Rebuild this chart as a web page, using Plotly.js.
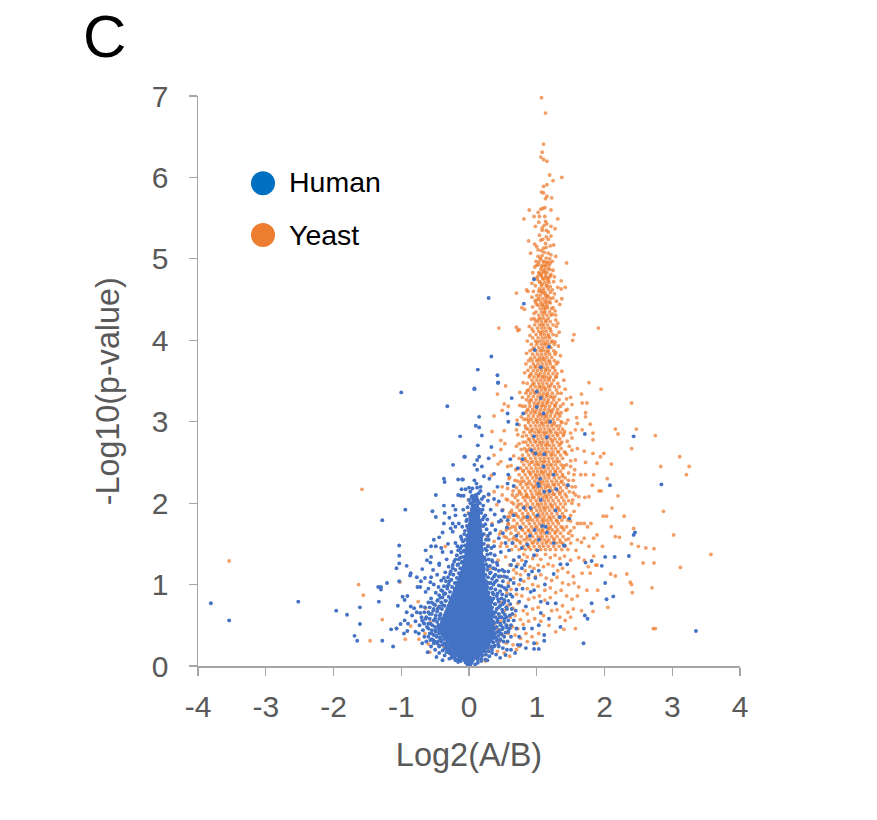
<!DOCTYPE html>
<html><head><meta charset="utf-8">
<script src="https://cdn.plot.ly/plotly-3.0.1.min.js"></script>
<style>html,body{margin:0;padding:0;background:#fff}#c{width:877px;height:820px}</style></head>
<body><div id="c"></div>
<script>
const seriesNames=["Human","Yeast"];
const xTicks=[-4,-3,-2,-1,0,1,2,3,4];
const yTicks=[0,1,2,3,4,5,6,7];

// Human: solid blob at the origin, read as rows [y, x, x, ...]
const humanCoreRows=[
[.02,-.01,.01],[.05,-.04,-.01,.03],[.08,-.06,-.02,.01,.05],[.11,-.09,-.05,-.01,.03,.07,.1],
[.14,-.12,-.08,-.03,.02,.06,.1,.14],[.17,-.16,-.11,-.07,-.02,.03,.08,.12,.16],
[.2,-.2,-.15,-.1,-.06,-.01,.04,.09,.14,.19,.22],[.24,-.24,-.19,-.14,-.09,-.04,.01,.06,.11,.16,.2,.25],
[.27,-.27,-.22,-.17,-.12,-.07,-.02,.03,.08,.13,.18,.23,.28],[.31,-.31,-.26,-.21,-.16,-.11,-.06,-.01,.04,.09,.14,.19,.24,.29,.32],
[.35,-.34,-.29,-.24,-.19,-.14,-.09,-.04,.01,.06,.11,.16,.21,.26,.31,.34],[.38,-.38,-.33,-.28,-.23,-.18,-.13,-.08,-.03,.02,.07,.12,.17,.22,.27,.32,.36],
[.42,-.4,-.35,-.3,-.25,-.2,-.15,-.1,-.05,0,.05,.1,.15,.2,.25,.3,.34],[.46,-.42,-.37,-.32,-.27,-.22,-.17,-.12,-.07,-.02,.03,.08,.13,.18,.23,.28,.33,.36],
[.5,-.41,-.36,-.31,-.26,-.21,-.16,-.11,-.06,-.01,.04,.09,.14,.19,.24,.29,.34],[.54,-.39,-.34,-.29,-.24,-.19,-.14,-.09,-.04,.01,.06,.11,.16,.21,.26,.31,.35],
[.58,-.38,-.33,-.28,-.23,-.18,-.13,-.08,-.03,.02,.07,.12,.17,.22,.27,.32],[.62,-.35,-.3,-.25,-.2,-.15,-.1,-.05,0,.05,.1,.15,.2,.25,.3,.34],
[.66,-.33,-.28,-.23,-.18,-.13,-.08,-.03,.02,.07,.12,.17,.22,.27,.31],[.7,-.31,-.26,-.21,-.16,-.11,-.06,-.01,.04,.09,.14,.19,.24,.29,.32],
[.74,-.29,-.24,-.19,-.14,-.09,-.04,.01,.06,.11,.16,.21,.26,.3],[.78,-.27,-.22,-.17,-.12,-.07,-.02,.03,.08,.13,.18,.23,.28],
[.82,-.26,-.2,-.15,-.1,-.05,0,.05,.1,.15,.2,.25,.29],[.86,-.23,-.18,-.13,-.08,-.03,.02,.07,.12,.17,.22,.27],
[.9,-.21,-.16,-.11,-.06,-.01,.04,.09,.14,.19,.24,.26],[.94,-.2,-.15,-.1,-.05,0,.05,.1,.15,.2,.25],
[.98,-.17,-.12,-.07,-.02,.03,.08,.13,.18,.23],[1.02,-.16,-.11,-.06,-.01,.04,.09,.14,.19,.23],
[1.06,-.13,-.08,-.03,.02,.07,.12,.17,.21],[1.1,-.12,-.07,-.02,.03,.08,.13,.18,.21],
[1.14,-.1,-.05,0,.05,.1,.15,.2],[1.18,-.09,-.04,.01,.06,.11,.16,.2],
[1.22,-.07,-.02,.03,.08,.13,.18,.2],[1.26,-.06,-.01,.04,.09,.14,.19],
[1.3,-.05,0,.05,.1,.15,.19],[1.34,-.04,.01,.06,.11,.16,.19],
[1.38,-.03,.02,.07,.12,.17],[1.42,-.03,.03,.08,.13,.18],
[1.46,-.02,.02,.07,.12,.17],[1.5,-.01,.04,.09,.14,.18],
[1.54,0,.03,.08,.13,.17],[1.58,0,.05,.1,.15,.17],
[1.62,.01,.04,.09,.14,.17],[1.66,.01,.06,.11,.16],
[1.7,.02,.05,.1,.15],[1.74,.02,.07,.12,.16],
[1.78,.03,.06,.11,.15],[1.83,.03,.08,.13],[1.87,.04,.09,.13],[1.92,.05,.1,.14],[1.97,.06,.11],[2.03,.07,.12],[2.08,.05,.1]
];
// Human: scattered points, flat x,y pairs
const humanOutliers=[-3.81,.77,-3.54,.56,-2.52,.79,-1.96,.68,-1.8,.63,-1.61,.72,-1.61,.515,-1.69,.37,-1.65,.31,-1.28,.31,-1.12,.24,-1.33,.79,-1.34,.97,-1.3,.97,-1.3,.94,-1.21,1.02,-1.03,1.04,-1.05,.74,-.92,1.23,-1.07,1.2,-1.03,1.26,-1.03,1.355,-1.03,1.48,-1.28,1.79,-.94,1.92,-1,3.36,-.32,3.19,.08,3.4,3.35,.43,.29,4.52,.96,4.75,.81,4.45,1.18,3.92,.97,3.88,.33,3.8,1.06,3.67,.13,3.64,.42,3.57,.43,3.48,.08,3.41,.43,3.48,.63,3.29];
const humanLeftFlank=[-.13,2.82,.15,3.06,.1,2.95,.15,2.93,-.06,2.57,-.235,2.47,.13,2.71,.12,2.53,.08,2.47,-.37,2.3,-.36,2.26,-.16,2.29,-.09,2.29,.08,2.28,-.11,2.17,-.05,2.17,0,2.19,-.49,2.1,-.16,2.1,-.12,2.09,-.08,2.09,.1,2.1,-.54,1.9,-.37,1.97,-.235,1.97,-.2,1.92,-.36,1.88,-.49,1.83,-.29,1.82,-.2,1.85,-.37,1.75,-.24,1.75,-.15,1.75,-.27,1.69,-.2,1.71,-.1,1.71,-.39,1.64,-.24,1.65,-.12,1.59,-.52,1.55,-.44,1.58,-.56,1.47,-.49,1.47,-.41,1.45,-.64,1.42,-.2,1.51,-.07,1.42,-.39,1.4,-.56,1.34,-.62,1.3,-.57,1.27,-.44,1.26,-.33,1.31,-.69,1.19,-.44,1.24,-.86,1.14,-.87,1.11,-.47,1.12,-.56,1.09,-.77,1.09,-.71,1.04,-.57,1.03,-.37,1.08,-.76,.97,-.72,.97,-.64,.91,-.56,.83,-.98,.85,-.91,.86,-.95,.81,-.86,.73,-.81,.71,-.92,.66,-.71,.73,-.72,.65,-.69,.56,-.67,.53,-.9,.52,-1.01,.515,-1.07,.46,-1.15,.45,-.95,.56,-.96,.4,-.91,.43,-.79,.42,-.74,.4,-.66,.36,-.57,.32,-.52,.28,-.44,.24,-.39,.07,-.61,.17,-.27,.15,
-.3,1.22,-.28,1.13,-.24,1.2,-.22,1.28,-.18,1.36,-.16,1.25,-.13,1.33,-.13,1.44,-.1,1.28,-.26,1.4,-.31,1.5,-.17,1.47,-.11,1.56,-.07,1.62,-.03,1.72,-.06,1.85,-.02,1.95,-.04,1.78,0,2.04,.02,2.14,-.29,1.04,-.32,.98,-.35,1.15,-.41,1.05,-.45,.97,-.39,.92,-.49,.9,-.52,1,-.6,.95,-.65,1.08,-.53,1.18,-.37,.88,-.42,.84,-.47,.8,-.35,.8,-.52,.76,-.6,.78,-.65,.72,-.39,.75,-.46,.7,-.53,.68,-.58,.64,-.63,.6,-.43,.62,-.5,.58,-.57,.52,-.62,.48,-.68,.44,-.73,.5,-.79,.55,-.84,.62,-.77,.66,-.45,.5,-.5,.44,-.55,.4,-.6,.36,-.63,.3,-.69,.28,-.48,.36,-.53,.32,-.47,.28,-.42,.33,-.44,.42,-.39,.19,-.44,.16,-.5,.2,-.56,.24,-.48,.11,-.33,.22,-.36,.13,-.29,.09,-.25,.1,-.2,.07,-.16,.05,-.13,.08,-.32,.28];
const humanEdgeLeft=[-.12,.06,-.17,.08,-.14,.1,-.21,.1,-.25,.12,-.2,.13,-.16,.13,-.19,.15,-.24,.15,-.29,.16,-.33,.17,-.22,.18,-.27,.19,-.31,.2,-.36,.21,-.25,.22,-.3,.23,-.34,.25,-.39,.26,-.44,.25,-.36,.28,-.41,.3,-.46,.3,-.51,.3,-.55,.33,-.37,.33,-.43,.35,-.48,.37,-.52,.38,-.58,.4,-.44,.4,-.49,.42,-.55,.44,-.6,.46,-.45,.46,-.5,.48,-.54,.5,-.6,.52,-.66,.52,-.47,.54,-.52,.56,-.58,.58,-.64,.58,-.7,.6,-.44,.58,-.49,.62,-.55,.64,-.6,.66,-.66,.66,-.42,.64,-.47,.67,-.52,.7,-.58,.72,-.4,.7,-.44,.73,-.5,.75,-.55,.78,-.36,.74,-.41,.78,-.46,.81,-.34,.8,-.39,.84,-.44,.87,-.3,.85,-.35,.89,-.41,.93,-.28,.91,-.32,.95,-.37,.98,-.25,.97,-.3,1,-.34,1.04,-.21,1.02,-.26,1.06,-.31,1.09,-.18,1.08,-.23,1.12,-.27,1.16,-.15,1.14,-.2,1.18,-.24,1.24,-.13,1.2,-.17,1.24,-.2,1.31,-.11,1.27,-.15,1.31,-.09,1.34,-.12,1.39,-.16,1.42,-.08,1.41,-.11,1.47,-.06,1.48,-.05,1.55,-.09,1.53,-.03,1.6,-.06,1.66,-.01,1.69,-.03,1.8,0,1.87];
const humanRightFlank=[.43,3.48,.57,3.1,.8,3.1,.58,3,.71,2.97,.19,2.83,.33,2.69,-.07,2.57,.15,2.57,.29,2.55,.19,2.45,.61,2.54,.79,2.54,.37,2.36,.22,2.33,.3,2.3,.58,2.35,.72,2.43,.12,2.41,-.1,2.29,.57,2.24,.66,2.21,.05,2.18,.12,2.19,.42,2.2,.22,2.08,.29,2.11,.11,2.06,.37,2.05,.44,2.02,.32,1.92,.49,1.91,.02,2,-.085,1.92,.07,1.875,.22,1.83,.52,1.83,.47,1.79,.81,1.94,.91,1.94,.66,1.85,.86,1.83,.34,1.73,.57,1.79,.39,1.67,.2,1.61,.29,1.55,.44,1.57,.54,1.51,.64,1.51,.37,1.47,.59,1.42,.47,1.4,.74,1.34,.66,1.3,.86,1.49,1.03,1.55,1.01,1.42,.42,1.24,.49,1.18,.52,1.1,.37,1.1,.32,1.02,.61,1.06,.76,1.06,.93,1.16,1.03,1.17,.79,.95,.91,.91,.64,.85,.52,.81,.42,.89,.34,.81,.74,.79,.84,.73,.96,.93,1.06,.79,1.16,.77,1.28,.77,1.06,.65,.52,.58,.37,.65,.66,.56,.81,.46,.93,.46,1.18,.58,1.03,.5,1.35,.48,.74,.36,.47,.4,1.11,.38,1.11,.31,.96,.28,.76,.26,.84,.22,.96,.21,1.03,.21,.54,.135,.37,.24,.27,.07,1.71,2.85,2.43,2.82,2.08,2.22,2.84,2.23,2.45,1.64,2.43,1.61,2.36,1.35,2.15,1.34,2.01,1.34,1.81,1.29,1.72,1.27,1.96,1.23,1.45,1.25,1.35,1.25,1.25,1.13,2.01,1.02,2.03,.82,2.13,.855,1.81,.77,1.71,.62,1.75,.58,1.69,.28,1.46,2.22,1.4,1.48,1.48,1.81,
.24,1.3,.28,1.22,.31,1.14,.35,1.28,.39,1.19,.27,1.02,.33,.96,.38,1.03,.44,1.1,.48,.98,.36,.88,.43,.82,.49,.88,.55,.94,.38,.76,.44,.72,.5,.76,.56,.7,.61,.76,.39,.66,.45,.6,.5,.66,.55,.6,.42,.54,.47,.5,.38,.46,.43,.42,.49,.45,.55,.5,.6,.46,.64,.64,.69,.68,.4,.34,.46,.32,.52,.36,.57,.3,.62,.36,.44,.24,.5,.22,.56,.2,.34,.16,.4,.14,.46,.1,.3,.12,.24,.08,.18,.06,.13,.04,.09,.02,.7,.46,.72,.26,.68,.16,.62,.2,.66,1.02,.7,.94,.58,1.16,.62,1.24,.7,1.22,.78,1.2,.84,1.28,.88,1.12,.98,1.08,1.12,1,.2,1.92,.27,1.8,.31,1.63,.26,1.42,.24,1.74,.17,2.2,.28,2.03,.38,1.86,.44,1.77,.5,1.63,.56,1.7,.7,1.6,.76,1.7,.78,1.45,.9,1.6,.96,1.36,.82,1.24];
const humanEdgeRight=[.13,.08,.18,.09,.14,.12,.2,.13,.25,.14,.19,.17,.24,.18,.29,.18,.34,.2,.28,.22,.33,.24,.38,.25,.43,.27,.36,.29,.41,.31,.46,.33,.51,.3,.38,.35,.43,.37,.48,.39,.54,.41,.58,.42,.4,.41,.45,.44,.5,.47,.56,.47,.62,.5,.41,.48,.46,.52,.52,.54,.58,.56,.37,.53,.42,.57,.48,.6,.53,.63,.6,.62,.39,.6,.44,.64,.49,.69,.55,.72,.63,.7,.36,.66,.41,.7,.46,.74,.52,.78,.58,.8,.34,.72,.39,.76,.44,.79,.48,.83,.55,.86,.61,.88,.33,.78,.36,.83,.41,.86,.46,.92,.52,.96,.58,.98,.31,.84,.35,.9,.39,.94,.44,.99,.5,1.04,.56,1.09,.29,.9,.32,.95,.36,1,.41,1.05,.46,1.1,.52,1.16,.27,.97,.3,1.02,.34,1.07,.39,1.12,.44,1.17,.25,1.04,.28,1.09,.32,1.15,.36,1.2,.41,1.27,.24,1.12,.27,1.18,.31,1.23,.34,1.3,.38,1.36,.22,1.2,.25,1.25,.29,1.31,.32,1.38,.23,1.33,.27,1.37,.24,1.44,.28,1.47,.33,1.45,.22,1.5,.25,1.55,.28,1.6,.22,1.62,.26,1.68,.21,1.72,.2,1.8,.24,1.85,.18,1.88,.21,1.97,.16,2,.19,2.05,.14,2.12,.17,2.15,.11,2.24];
const humanOnYeast=[1,3.37,1.06,3.29,1,3.18,1.1,3.1,1.2,3,1.15,2.81,.96,2.82,.92,2.65,.98,2.61,1.11,2.6,1.1,2.45,1.05,2.3,1.02,2.24,1.03,2.21,1.11,2.14,1.19,2.15,1.29,2.17,1.06,2.04,1.25,2.35,1.28,1.91,1.01,1.85,1.08,1.72,1.13,1.71,1.15,1.64,.97,1.67,1.25,1.51,1.34,1.83,1.41,1.48];

// Yeast: upper spire, flat x,y pairs
const yeastSpire=[1.07,6.98,1.13,6.79,1.1,6.41,1.08,6.31,1.06,6.25,1.1,6.22,1.15,6.2,1.19,6.03,1.37,6,1.24,5.96,1.15,5.91,1.1,5.89,1.07,5.82,1.1,5.81,1.15,5.77,1.13,5.74,1.22,5.75,.89,5.6,1.06,5.61,1.09,5.62,1.12,5.63,1.21,5.6,1.02,5.57,.81,5.49,.96,5.52,1.04,5.52,1.12,5.52,1.31,5.49,1.13,5.46,1.15,5.43,.98,5.4,1.08,5.38,1.08,5.35,1.14,5.35,1.21,5.4,1.27,5.37,1.14,5.27,1.21,5.28,.88,5.22,1.06,5.23,.97,5.18,1,5.15,1.13,5.19,1.2,5.16,1.25,5.17,1.1,5.13,1.14,5.14,1.11,5.08,.91,5.07,1.21,5.05,1.28,5.03,1.08,5.04,1.06,4.99,1.11,4.97,1.44,4.95,1.02,4.93,1.15,4.95,1.2,4.95,1.07,4.9,1.12,4.91,1.17,4.88,1.1,4.85,1.04,4.82,.94,4.83,1.21,4.81,1.01,4.78,1.09,4.76,1.14,4.77,1.17,4.73,1.36,4.73,1.25,4.72,1.04,4.72,.93,4.7,1.2,4.66,1.31,4.65,1.42,4.65,1.36,4.63,.7,4.58,.85,4.62,.87,4.6,1.03,4.6,1.1,4.58,1.13,4.55,1.24,4.52,1.37,4.51,1.02,4.5,.98,4.49,1.14,4.47,1.08,4.44,1.2,4.46,1.34,4.44,.78,4.4,.82,4.38,1.12,4.42,1.24,4.4,1.27,4.36,1.28,4.31,.44,4.15,.7,4.16,.72,4.12,.98,4.24,.89,4.17,1.91,4.15,1.29,4.17,1.27,3.98,1.33,4.1,.74,4.13,1.55,4.07,1.53,4];
// Yeast: dense column, rows [y, x, x, ...]
const yeastCoreRows=[
[5.01,1.05,1.14],[4.96,1.03,1.1,1.16],[4.92,1,1.08,1.13,1.18],[4.87,1.06,1.12,1.19],[4.83,1.03,1.09,1.15],[4.79,1.07,1.13,1.2],[4.75,1.01,1.1,1.16],[4.71,1.05,1.12,1.18],[4.67,.98,1.07,1.14],[4.63,1.04,1.1,1.17],[4.59,1.07,1.12,1.2],[4.55,1,1.05,1.15],[4.51,1.03,1.09,1.14,1.2],[4.47,.98,1.06,1.12,1.18],[4.43,1.02,1.08,1.15],[4.39,1.05,1.1,1.13,1.22],[4.35,.99,1.07,1.12,1.19],[4.31,1.03,1.09,1.15,1.21],[4.27,.96,1.05,1.1,1.17],[4.23,1.01,1.07,1.13,1.2],[4.19,.97,1.04,1.1,1.16,1.24],[4.15,1.01,1.07,1.12,1.18],[4.11,.95,1.03,1.09,1.14,1.21],[4.07,.99,1.06,1.11,1.17,1.24],[4.03,.94,1.02,1.08,1.13,1.19],[3.99,.98,1.05,1.1,1.16,1.23],[3.95,.92,1,1.07,1.12,1.18,1.26],[3.91,.96,1.03,1.09,1.15,1.21],[3.87,.9,.99,1.05,1.11,1.17,1.25],[3.83,.94,1.01,1.07,1.13,1.19,1.27],[3.79,.97,1.04,1.09,1.15,1.22],[3.75,.88,.93,1,1.06,1.12,1.18,1.26],[3.71,.95,1.02,1.08,1.14,1.2,1.29],[3.67,.91,.98,1.04,1.1,1.16,1.23],[3.63,.87,.95,1.01,1.07,1.13,1.19,1.27],[3.59,.92,.99,1.05,1.11,1.17,1.24,1.3],[3.55,.89,.96,1.02,1.08,1.14,1.2,1.28],[3.51,.93,1,1.06,1.12,1.18,1.25],[3.47,.86,.96,1.03,1.09,1.15,1.22,1.31],[3.43,.91,.98,1.05,1.1,1.17,1.26],[3.39,.88,.94,1.01,1.07,1.13,1.19,1.29],[3.35,.84,.91,.98,1.04,1.1,1.16,1.23,1.31],[3.31,.88,.95,1.02,1.08,1.14,1.2,1.27],[3.27,.85,.92,.99,1.05,1.11,1.17,1.25,1.33],[3.23,.89,.96,1.03,1.09,1.15,1.22,1.29],[3.19,.83,.9,.97,1.01,1.07,1.13,1.19,1.27,1.35],[3.15,.87,.94,1,1.06,1.12,1.18,1.24,1.31],[3.11,.84,.91,.98,1.04,1.1,1.16,1.22,1.29,1.36],[3.07,.88,.95,1.02,1.08,1.14,1.2,1.27,1.34],[3.03,.81,.85,.92,.99,1.05,1.11,1.17,1.24,1.31],[2.99,.88,.95,1.01,1.07,1.13,1.19,1.26,1.37],[2.95,.83,.91,.98,1.04,1.1,1.16,1.22,1.29,1.34],[2.91,.87,.94,1,1.06,1.12,1.18,1.25,1.32,1.38],[2.87,.81,.9,.97,1.03,1.09,1.15,1.21,1.28,1.35],[2.83,.85,.93,1,1.06,1.12,1.18,1.24,1.31,1.39],[2.79,.88,.95,1.02,1.08,1.14,1.2,1.27,1.34],[2.75,.8,.84,.91,.98,1.04,1.1,1.16,1.23,1.3,1.37],[2.71,.87,.94,1.01,1.07,1.13,1.19,1.25,1.33],[2.67,.82,.9,.97,1.03,1.09,1.15,1.22,1.28,1.36],[2.63,.85,.93,1,1.06,1.12,1.18,1.24,1.31,1.41],[2.59,.79,.88,.96,1.02,1.08,1.14,1.21,1.27,1.35],[2.55,.83,.91,.98,1.05,1.11,1.17,1.23,1.3,1.38],[2.51,.78,.86,.94,1,1.06,1.12,1.18,1.25,1.33],[2.47,.81,.89,.97,1.03,1.09,1.15,1.22,1.28,1.36,1.44],[2.43,.76,.85,.92,.99,1.05,1.11,1.17,1.24,1.31,1.39],[2.39,.8,.88,.95,1.01,1.07,1.13,1.2,1.27,1.35],[2.35,.74,.83,.91,.98,1.04,1.1,1.16,1.23,1.3,1.38],[2.31,.78,.86,.94,1,1.06,1.12,1.18,1.26,1.33,1.42],[2.27,.72,.81,.89,.97,1.03,1.09,1.15,1.22,1.29,1.37],[2.23,.76,.84,.92,.99,1.05,1.11,1.17,1.24,1.32,1.4],[2.19,.7,.79,.87,.95,1.01,1.07,1.13,1.2,1.27,1.35,1.44],[2.15,.74,.83,.91,.98,1.04,1.1,1.16,1.23,1.31,1.38],[2.11,.77,.85,.93,1,1.06,1.12,1.18,1.26,1.34,1.42],[2.07,.68,.8,.88,.96,1.03,1.09,1.15,1.21,1.29,1.37],[2.03,.72,.83,.91,.99,1.05,1.11,1.17,1.24,1.32,1.4,1.47],[1.99,.66,.77,.86,.94,1.01,1.07,1.13,1.2,1.27,1.35],[1.95,.71,.8,.89,.97,1.04,1.1,1.16,1.23,1.3,1.39],[1.91,.63,.75,.84,.92,1,1.06,1.12,1.19,1.26,1.34,1.43],[1.87,.69,.79,.87,.95,1.03,1.09,1.15,1.22,1.3,1.38],[1.83,.6,.73,.82,.9,.98,1.05,1.11,1.18,1.25,1.33,1.41],[1.79,.66,.77,.86,.94,1.01,1.08,1.15,1.21,1.29,1.37,1.46],[1.75,.58,.71,.8,.89,.97,1.04,1.1,1.17,1.24,1.32],[1.71,.64,.75,.84,.92,1,1.07,1.14,1.2,1.28,1.36,1.44],[1.67,.55,.69,.79,.88,.95,1.03,1.09,1.16,1.23,1.31,1.4],[1.63,.62,.73,.83,.91,.99,1.06,1.12,1.19,1.27,1.35,1.47],[1.59,.52,.67,.77,.86,.94,1.02,1.08,1.15,1.22,1.3,1.39],[1.55,.59,.71,.81,.9,.98,1.05,1.11,1.18,1.26,1.34,1.43],[1.51,.48,.65,.76,.85,.93,1.01,1.08,1.14,1.21,1.29,1.38,1.5],[1.47,.56,.69,.8,.88,.96,1.04,1.1,1.17,1.25,1.33,1.42],[1.43,.63,.74,.83,.91,.99,1.06,1.13,1.2,1.28,1.37,1.46]
];
// Yeast: irregular mesh read over the column, flat x,y pairs
const yeastMesh=[1.03,5.45,1.11,5.41,1.17,5.33,1.04,5.29,1.09,5.24,1.17,5.24,1.02,5.11,1.07,5.1,1.17,5.07,1.02,5.03,1.19,5,1.23,4.97,.99,4.97,.97,4.9,1.24,4.86,1.06,4.8,1.13,4.83,1.18,4.77,.96,4.76,1.26,4.78,1.08,4.69,1.15,4.67,1.23,4.62,.95,4.6,1.07,4.61,1.17,4.54,1.26,4.57,.93,4.53,1,4.44,1.16,4.4,1.29,4.48,.94,4.41,1.11,4.34,1.23,4.32,.96,4.33,1.03,4.26,1.14,4.24,1.28,4.25,.92,4.26,1.08,4.19,1.2,4.14,1.31,4.21,.93,4.14,1.06,4.09,1.17,4.05,1.29,4.06,.9,4.06,1.01,3.98,1.13,3.96,1.22,3.98,.86,3.99,1.32,3.93,.94,3.89,1.07,3.88,1.16,3.86,1.28,3.85,.85,3.84,1.35,3.81,.91,3.78,1.02,3.76,1.1,3.77,1.19,3.74,1.31,3.73,.84,3.71,.98,3.68,1.06,3.66,1.14,3.64,1.25,3.67,1.37,3.62,.82,3.6,.9,3.57,1.03,3.57,1.1,3.55,1.18,3.53,1.29,3.55,1.4,3.51,.8,3.48,.94,3.46,1.04,3.43,1.12,3.41,1.2,3.44,1.33,3.43,.86,3.38,.97,3.36,1.07,3.31,1.15,3.33,1.23,3.3,1.36,3.35,1.44,3.28,.79,3.3,.9,3.26,1.01,3.22,1.09,3.2,1.16,3.24,1.27,3.2,1.39,3.22,.75,3.2,.86,3.14,.96,3.12,1.05,3.09,1.13,3.07,1.21,3.13,1.32,3.1,1.43,3.14,.77,3.06,.88,3.02,1,3.01,1.08,2.98,1.16,3,1.24,2.97,1.36,3,1.46,3.02,.74,2.96,.84,2.92,.92,2.89,1.03,2.88,1.12,2.86,1.2,2.89,1.3,2.85,1.41,2.88,1.5,2.86,.72,2.84,.79,2.82,.89,2.78,.98,2.76,1.06,2.74,1.15,2.72,1.23,2.77,1.35,2.73,1.45,2.76,.7,2.7,.77,2.66,.86,2.65,.95,2.62,1.04,2.6,1.13,2.62,1.22,2.6,1.32,2.63,1.42,2.62,1.52,2.65,.66,2.58,.74,2.55,.83,2.53,.92,2.5,1.01,2.48,1.1,2.51,1.2,2.47,1.3,2.51,1.4,2.46,1.5,2.52,.62,2.46,.71,2.42,.8,2.4,.9,2.37,.99,2.34,1.08,2.38,1.18,2.35,1.28,2.39,1.38,2.33,1.47,2.37,1.56,2.41,.6,2.32,.68,2.28,.77,2.26,.87,2.24,.96,2.2,1.06,2.25,1.16,2.21,1.26,2.23,1.36,2.26,1.46,2.22,1.54,2.28,.57,2.18,.65,2.15,.75,2.13,.85,2.1,.94,2.07,1.03,2.12,1.14,2.08,1.24,2.11,1.34,2.13,1.44,2.08,1.54,2.13,.55,2.05,.63,2.01,.73,1.98,.83,1.96,.92,1.93,1.02,1.98,1.12,1.94,1.22,1.97,1.32,1.94,1.42,1.99,1.52,2,.5,1.92,.6,1.88,.7,1.85,.8,1.82,.9,1.8,1,1.83,1.1,1.79,1.2,1.82,1.3,1.78,1.4,1.83,1.5,1.78,.48,1.78,.58,1.74,.68,1.71,.78,1.68,.88,1.66,.98,1.7,1.08,1.66,1.18,1.69,1.28,1.65,1.38,1.7,1.5,1.66,.45,1.62,.55,1.58,.65,1.56,.75,1.53,.85,1.56,.95,1.52,1.05,1.57,1.15,1.53,1.25,1.56,1.35,1.52,1.47,1.56];
// Yeast: flanks and far points, flat x,y pairs
const yeastFar=[-3.54,1.29,-1.58,2.17,-1.63,1,-1.56,.87,-1.28,.57,-1.46,.31,-1.02,1.03,-.75,.79,-.94,.33,-.74,.33,-.86,.49,-1.07,.46,-.64,.71,-.46,.71,-.52,.56,-.57,.54,-.65,.4,-.6,.27,-.58,.17,-.34,.34,-.37,.24,-.01,2.04,-.01,1.88,-.01,1.67,-.35,1.47,-.03,.2,.02,.12,.14,.16,.24,.06,
2.4,3.23,2.16,2.91,2.2,2.85,2.47,2.91,2.75,2.83,2.4,2.67,3.11,2.57,3.25,2.45,3.21,2.35,2.83,2.45,1.99,2.61,2.1,2.48,2.04,2.3,1.92,2.15,1.95,2.15,2.2,2.09,2.11,1.94,1.98,1.84,2.03,1.84,2.29,1.84,2.87,1.9,2.1,1.71,2.16,1.59,2.22,1.58,2.43,1.69,3.02,1.61,2.4,1.5,2.5,1.47,2.61,1.45,2.73,1.44,3.57,1.37,2.57,1.265,2.73,1.265,3.12,1.21,2.33,1.13,2.16,1.105,2.09,1.13,2.38,1.03,2.4,1,2.7,.96,2.41,.9,2.05,.72,1.83,.67,1.66,.68,1.57,.46,2.72,.46,2.75,.46,1.9,.93,1.74,.93,1.67,1.14,1.79,1.14,1.87,1.24,1.89,1.24,1.84,1.35,1.97,1.47,1.84,1.57,1.89,1.61,1.77,1.47,1.7,1.57,1.8,1.75,1.75,1.71,1.71,2.07,1.77,2.08,1.62,2.08,1.83,2.78,1.83,2.86,1.79,2.97,1.72,3.06,1.72,3.11,1.66,3.34,1.95,3.4,1.77,3.48,1.59,3.05,1.6,2.98,1.67,3.23,1.74,3.23,1.52,3.21,1.57,2.9,1.67,2.9,1.43,2.98,1.52,2.8,1.6,2.67,1.7,2.64,1.83,2.61,1.57,2.53,1.72,2.5,1.89,2.49,1.94,2.57,1.55,2.35,1.65,2.35,1.72,2.35,1.84,2.35,1.82,2.22,1.57,2.2,1.57,2.1,1.62,1.98,1.53,2.04,1.6,1.75,1.65,1.75,1.7,1.75,1.5,3.3,1.45,3.15,1.42,3.4,1.4,2.85,1.48,2.7,1.44,2.6,1.5,2.45,1.47,2.28,1.52,2.2,1.48,2.14,1.55,1.9,1.5,1.85,1.55,1.7,1.52,1.6,1.6,1.55,1.58,1.42,1.66,1.52,1.62,1.33,1.7,1.3,1.76,1.22,
.54,3.44,.42,3.34,.75,3.36,.52,3.22,.58,3.19,.37,3.07,.49,3.14,.71,3.02,.52,2.89,.34,2.88,.7,2.9,.79,3.19,.47,2.77,.53,2.73,.74,2.73,.47,2.66,.37,2.59,.47,2.51,.43,2.48,.57,2.45,.69,2.41,.33,2.34,.49,2.2,.59,2.3,.64,2.1,.71,2.1,.37,2.14,.49,2.1,.29,2.1,.57,2.04,.84,2.08,.57,1.83,.64,1.87,.6,1.69,.47,1.65,.34,1.75,.27,1.59,.37,1.53,.46,1.47,.7,1.55,.54,1.34,.66,1.3,.88,1.46,.81,1.37,.49,1.1,.28,1.48,.19,1.72,.1,1.88,.41,1.98,.31,1.2,.43,1.3,
.6,1.24,.66,1.18,.72,1.25,.78,1.3,.86,1.34,.94,1.32,1,1.36,1.06,1.31,1.13,1.37,1.2,1.33,1.27,1.36,1.34,1.32,1.41,1.35,1.5,1.3,.7,1.14,.76,1.12,.83,1.17,.9,1.22,.96,1.2,1.02,1.24,1.1,1.22,1.17,1.25,1.24,1.23,1.31,1.17,1.38,1.2,1.46,1.15,1.54,1.1,.58,1.02,.66,1.08,.74,1,.81,1.04,.88,1.08,.98,1.1,1.06,1.12,1.14,1.08,1.22,1.05,1.3,1.09,1.38,1.02,1.47,1,1.55,1.02,1.62,.97,.56,.9,.62,.94,.7,.88,.78,.86,.86,.95,.94,1,1.02,.98,1.12,.93,1.2,.96,1.28,.9,1.36,.93,1.44,.86,1.52,.82,1.6,.86,.48,.78,.57,.74,.65,.71,.72,.77,.8,.68,.88,.82,.96,.84,1.04,.86,1.12,.81,1.2,.84,1.3,.69,1.38,.74,1.46,.66,1.54,.7,.44,.63,.52,.68,.61,.6,.68,.62,.76,.57,.86,.64,.94,.7,1.02,.72,1.1,.62,1.22,.68,1.34,.6,1.42,.56,1.5,.6,.38,.52,.47,.55,.56,.5,.64,.48,.72,.46,.8,.51,.88,.55,.97,.58,1.06,.55,1.18,.5,1.28,.42,1.4,.45,.31,.43,.42,.45,.5,.38,.58,.4,.68,.38,.76,.34,.84,.4,.93,.36,1.03,.4,.34,.33,.45,.3,.55,.28,.65,.26,.74,.24,.86,.3,1,.28,.3,.22,.42,.18,.52,.16,.6,.12,.7,.2,.2,.2,.27,.28,.25,.14];

function flat(pairs){const x=[],y=[];for(let i=0;i<pairs.length;i+=2){x.push(pairs[i]);y.push(pairs[i+1]);}return {x,y};}
function unrow(rows){const x=[],y=[];rows.forEach(r=>{for(let i=1;i<r.length;i++){x.push(r[i]);y.push(r[0]);}});return {x,y};}
function join(parts){return {x:[].concat(...parts.map(p=>p.x)),y:[].concat(...parts.map(p=>p.y))};}

const humanCore=unrow(humanCoreRows);
const human=join([flat(humanOutliers),flat(humanLeftFlank),flat(humanEdgeLeft),flat(humanRightFlank),flat(humanEdgeRight),flat(humanOnYeast)]);
const yeast=join([flat(yeastSpire),unrow(yeastCoreRows),flat(yeastMesh),flat(yeastFar)]);

const traces=[
 {type:'scatter',mode:'markers',name:seriesNames[1],x:yeast.x,y:yeast.y,cliponaxis:false,showlegend:false,
  marker:{color:'#ED7D31',size:3.8,opacity:.75,line:{width:0}}},
 {type:'scatter',mode:'markers',name:seriesNames[0],x:human.x,y:human.y,cliponaxis:false,showlegend:false,
  marker:{color:'#4472C4',size:3.9,opacity:1,line:{width:0}}},
 {type:'scatter',mode:'markers',name:seriesNames[0],x:humanCore.x,y:humanCore.y,cliponaxis:false,showlegend:false,
  marker:{color:'#4472C4',size:5.2,opacity:1,line:{width:0}}}
];
const axisCommon={showgrid:false,zeroline:false,showline:true,linecolor:'#A6A6A6',linewidth:1.5,
  ticks:'outside',ticklen:8,tickwidth:1.2,tickcolor:'#A6A6A6',tickfont:{family:'Liberation Sans',size:30,color:'#595959'},tickmode:'array'};
const layout={width:877,height:820,paper_bgcolor:'#fff',plot_bgcolor:'#fff',showlegend:false,
 margin:{l:198,r:137,t:96,b:154,autoexpand:false},
 xaxis:Object.assign({},axisCommon,{range:[-4,4],tickvals:xTicks,ticktext:xTicks.map(String),ticklabelstandoff:5,
   title:{text:'Log2(A/B)',standoff:21,font:{family:'Liberation Sans',size:32.5,color:'#595959'}}}),
 yaxis:Object.assign({},axisCommon,{range:[0,7],tickvals:yTicks,ticktext:yTicks.map(String),ticklabelstandoff:14,
   title:{text:''}}),
 shapes:[
  {type:'circle',xref:'paper',yref:'paper',x0:.0978,x1:.1421,y0:.826,y1:.868,fillcolor:'#0070C0',line:{width:0}},
  {type:'circle',xref:'paper',yref:'paper',x0:.0978,x1:.1421,y0:.735,y1:.777,fillcolor:'#ED7D31',line:{width:0}}
 ],
 annotations:[
  {text:'-Log10(p-value)',xref:'paper',yref:'paper',x:-.166,y:.482,xanchor:'center',yanchor:'middle',textangle:-90,showarrow:false,font:{family:'Liberation Sans',size:32.3,color:'#595959'}},
  {text:seriesNames[0],xref:'paper',yref:'paper',x:.1642,y:.849,xanchor:'left',yanchor:'middle',showarrow:false,font:{family:'Liberation Sans',size:28.5,color:'#000'}},
  {text:seriesNames[1],xref:'paper',yref:'paper',x:.1642,y:.756,xanchor:'left',yanchor:'middle',showarrow:false,font:{family:'Liberation Sans',size:28.5,color:'#000'}},
  {text:'C',xref:'paper',yref:'paper',x:-.173,y:1.104,xanchor:'center',yanchor:'middle',showarrow:false,font:{family:'Liberation Sans',size:60,color:'#000'}}
 ]};
Plotly.newPlot('c',traces,layout,{displayModeBar:false,staticPlot:true});
</script></body></html>
